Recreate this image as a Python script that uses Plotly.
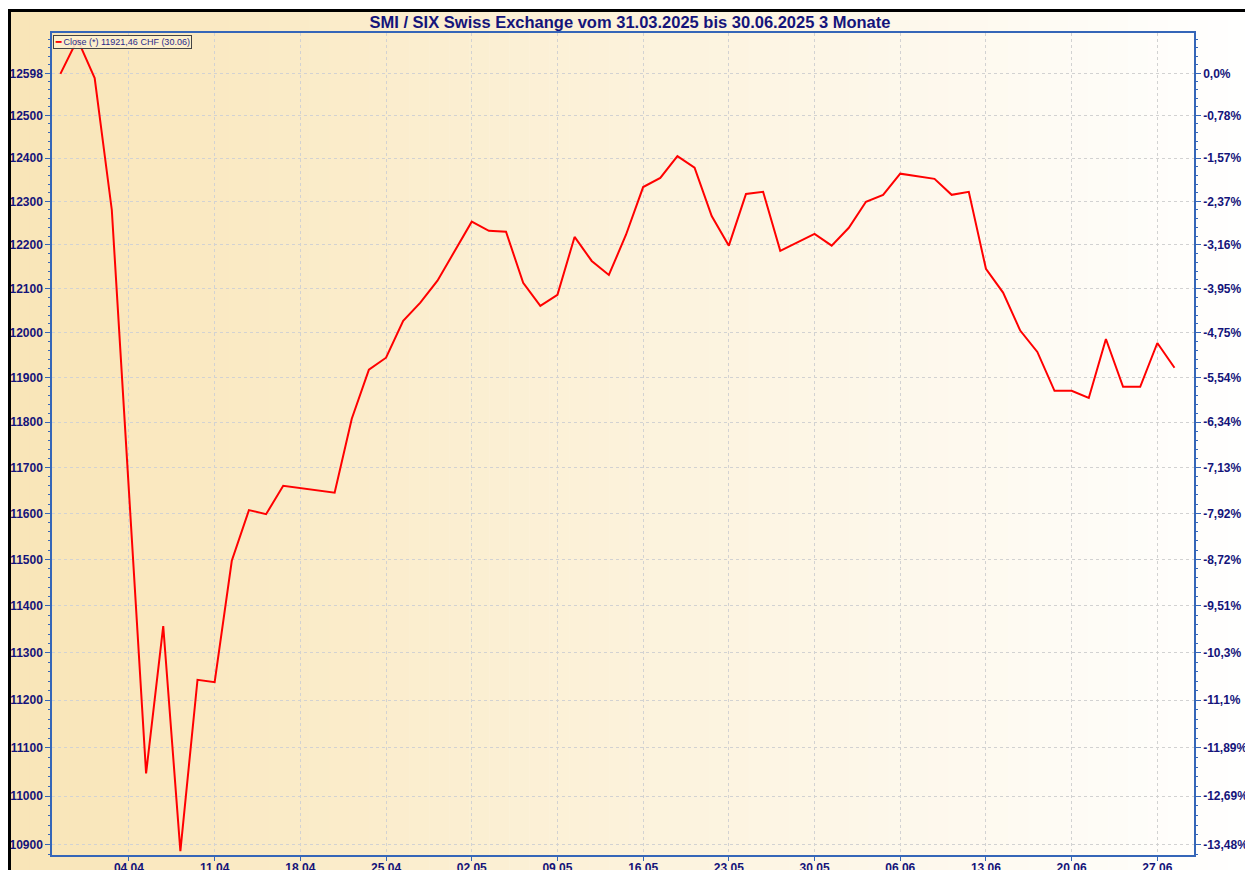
import plotly.graph_objects as go
import math

# ---------------------------------------------------------------------------
# Data (SMI daily closes)
# ---------------------------------------------------------------------------

dates = [
    "2025-03-31", "2025-04-01", "2025-04-02", "2025-04-03", "2025-04-04",
    "2025-04-07", "2025-04-08", "2025-04-09", "2025-04-10", "2025-04-11",
    "2025-04-14", "2025-04-15", "2025-04-16", "2025-04-17",
    "2025-04-22", "2025-04-23", "2025-04-24", "2025-04-25",
    "2025-04-28", "2025-04-29", "2025-04-30", "2025-05-02",
    "2025-05-05", "2025-05-06", "2025-05-07", "2025-05-08", "2025-05-09",
    "2025-05-12", "2025-05-13", "2025-05-14", "2025-05-15", "2025-05-16",
    "2025-05-19", "2025-05-20", "2025-05-21", "2025-05-22", "2025-05-23",
    "2025-05-26", "2025-05-27", "2025-05-28", "2025-05-30",
    "2025-06-02", "2025-06-03", "2025-06-04", "2025-06-05", "2025-06-06",
    "2025-06-10", "2025-06-11", "2025-06-12", "2025-06-13",
    "2025-06-16", "2025-06-17", "2025-06-18", "2025-06-19", "2025-06-20",
    "2025-06-23", "2025-06-24", "2025-06-25", "2025-06-26", "2025-06-27",
    "2025-06-30",
]

closes = [
    12598, 12680, 12588, 12280, 11648,
    11047, 11357, 10887, 11243, 11238,
    11497, 11607, 11598, 11660,
    11645, 11808, 11917, 11944,
    12027, 12068, 12118, 12253,
    12232, 12230, 12113, 12061, 12086,
    12218, 12163, 12131, 12223, 12333,
    12354, 12405, 12378, 12266, 12198,
    12317, 12322, 12186, 12225,
    12198, 12239, 12299, 12315, 12364,
    12352, 12315, 12322, 12145,
    12091, 12005, 11957, 11870, 11870,
    11854, 11986, 11879, 11879, 11977,
    11921.46,
]

x_tick_dates = [
    "2025-04-04", "2025-04-11", "2025-04-18", "2025-04-25", "2025-05-02",
    "2025-05-09", "2025-05-16", "2025-05-23", "2025-05-30", "2025-06-06",
    "2025-06-13", "2025-06-20", "2025-06-27",
]
x_tick_labels = [
    "04.04", "11.04", "18.04", "25.04", "02.05", "09.05", "16.05",
    "23.05", "30.05", "06.06", "13.06", "20.06", "27.06",
]

y_ticks = [12598, 12500, 12400, 12300, 12200, 12100, 12000, 11900, 11800,
           11700, 11600, 11500, 11400, 11300, 11200, 11100, 11000, 10900]
pct_labels = ["0,0%", "-0,78%", "-1,57%", "-2,37%", "-3,16%", "-3,95%",
              "-4,75%", "-5,54%", "-6,34%", "-7,13%", "-7,92%", "-8,72%",
              "-9,51%", "-10,3%", "-11,1%", "-11,89%", "-12,69%", "-13,48%"]

# ---------------------------------------------------------------------------
# Theme / geometry (page pixels; the page body adds an 8px offset)
# ---------------------------------------------------------------------------

OFF = 8
W_FIG, H_FIG = 1253 - OFF, 870 - OFF
L, R, T, B = 52, 1194, 33, 855          # plot box, page pixels
NAVY = "#14147a"
AXIS_BLUE = "#3566b8"
GRID = "#d2d2d2"
FONT = "Liberation Sans"


def px_x(p):
    return (p - L) / (R - L)


def px_y(p):
    return (B - p) / (B - T)


y_range = [math.log10(10879), math.log10(12695)]
minor_vals = list(range(10880, 12700, 20))

fig = go.Figure()

fig.add_trace(go.Scatter(
    x=dates, y=closes, mode="lines", name="Close",
    line=dict(color="#ff0000", width=2), showlegend=False,
))
# invisible copy so the right-hand axis renders
fig.add_trace(go.Scatter(
    x=dates, y=closes, mode="lines", yaxis="y2", hoverinfo="skip",
    line=dict(color="rgba(0,0,0,0)", width=0), showlegend=False,
))

# --- background gradient (strips) ---
shapes = []
x0, x1 = 10, 1248
n = 62
c_left = (249, 229, 183)
c_right = (255, 255, 255)
for i in range(n):
    a = x0 + (x1 - x0) * i / n
    b = x0 + (x1 - x0) * (i + 1) / n + 0.5
    t = (i + 0.5) / n
    col = tuple(round(c_left[k] + (c_right[k] - c_left[k]) * t) for k in range(3))
    shapes.append(dict(
        type="rect", xref="paper", yref="paper", layer="below",
        x0=px_x(a), x1=px_x(b), y0=px_y(880), y1=px_y(12),
        fillcolor="rgb(%d,%d,%d)" % col, line=dict(width=0),
    ))

# --- black frame ---
for (a, b, c, d) in [(6, 11, 9, 880), (6, 1253, 9, 12), (1248, 1253, 9, 880)]:
    shapes.append(dict(
        type="rect", xref="paper", yref="paper", layer="above",
        x0=px_x(a), x1=px_x(b), y0=px_y(d), y1=px_y(c),
        fillcolor="black", line=dict(width=0),
    ))

fig.update_layout(
    width=W_FIG,
    height=H_FIG,
    template="none",
    paper_bgcolor="white",
    plot_bgcolor="rgba(0,0,0,0)",
    margin=dict(l=L - OFF, r=W_FIG - (R - OFF), t=T - OFF, b=H_FIG - (B - OFF)),
    shapes=shapes,
    title=dict(
        text="SMI / SIX Swiss Exchange vom 31.03.2025 bis 30.06.2025 3 Monate",
        x=(630 - OFF) / W_FIG, xref="container", xanchor="center",
        y=1 - (22 - OFF) / H_FIG, yref="container", yanchor="middle",
        font=dict(family=FONT, size=16.5, color=NAVY, weight="bold"),
    ),
    xaxis=dict(
        type="date",
        rangebreaks=[dict(bounds=["sat", "mon"])],
        range=["2025-03-28 12:15", "2025-07-01 03:20"],
        tickmode="array", tickvals=x_tick_dates, ticktext=x_tick_labels,
        tickfont=dict(family=FONT, size=12, color=NAVY, weight="bold"),
        ticks="outside", ticklen=4, tickcolor=AXIS_BLUE,
        ticklabelstandoff=-3,
        showline=True, linecolor=AXIS_BLUE, linewidth=1.5, mirror=True,
        showgrid=True, gridcolor=GRID, griddash="dot", gridwidth=1,
        zeroline=False, automargin=False,
    ),
    yaxis=dict(
        type="log", range=y_range,
        tickmode="array", tickvals=y_ticks, ticktext=[str(v) for v in y_ticks],
        tickfont=dict(family=FONT, size=12, color=NAVY, weight="bold"),
        ticks="outside", ticklen=5, tickcolor=AXIS_BLUE,
        minor=dict(tickmode="array", tickvals=minor_vals, ticks="outside",
                   ticklen=2, tickcolor=AXIS_BLUE, showgrid=False),
        showline=True, linecolor=AXIS_BLUE, linewidth=1.5,
        showgrid=True, gridcolor=GRID, griddash="dot", gridwidth=1,
        zeroline=False, automargin=False,
    ),
    yaxis2=dict(
        type="log", range=y_range, overlaying="y", side="right",
        tickmode="array", tickvals=y_ticks, ticktext=pct_labels,
        tickfont=dict(family=FONT, size=12, color=NAVY, weight="bold"),
        ticks="outside", ticklen=5, tickcolor=AXIS_BLUE,
        minor=dict(tickmode="array", tickvals=minor_vals, ticks="outside",
                   ticklen=2, tickcolor=AXIS_BLUE, showgrid=False),
        showline=True, linecolor=AXIS_BLUE, linewidth=1.5,
        showgrid=False, zeroline=False, automargin=False,
    ),
    annotations=[dict(
        xref="paper", yref="paper", x=px_x(53), y=px_y(35),
        xanchor="left", yanchor="top", showarrow=False,
        text="<span style='color:#ff0000'><b>━</b></span> Close (*) 11921,46 CHF (30.06)",
        font=dict(family=FONT, size=9, color="#2a2a8a"),
        bgcolor="rgba(252,240,205,0.9)", bordercolor="#444444", borderwidth=1,
        borderpad=1,
    )],
)

fig.write_html("out.html")
